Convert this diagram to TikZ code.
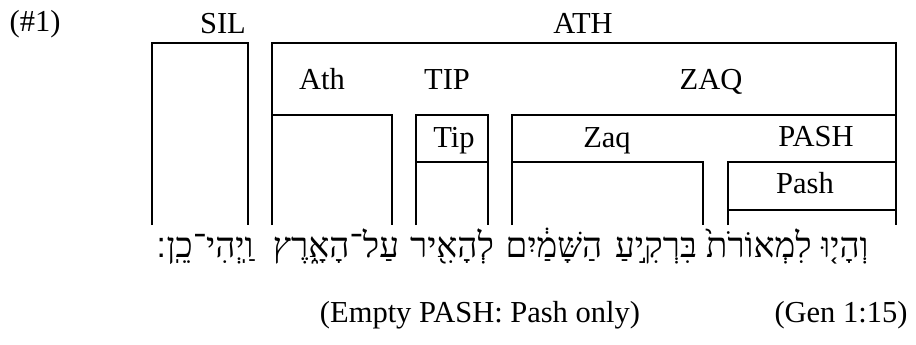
\documentclass[tikz,border=0pt]{standalone}
\usepackage{fontspec}
\setmainfont{Liberation Serif}
\newfontfamily\hebfont[Script=Hebrew]{Liberation Serif}
\newfontfamily\hebdv[Script=Hebrew]{DejaVu Sans}
\TeXXeTstate=1
\begin{document}
\begin{tikzpicture}[x=1pt,y=-1pt,
  box/.style={line width=1.3pt},
  lbl/.style={font=\fontsize{30.5}{35}\selectfont, anchor=base, inner sep=0pt},
  heb/.style={font=\hebfont\fontsize{35}{39}\selectfont, anchor=base, inner sep=0pt}]
\useasboundingbox (0,0) rectangle (916,345);
% brackets
\draw[box] (152,225) -- (152,43) -- (248,43) -- (248,225);
\draw[box] (272,225) -- (272,43) -- (896,43) -- (896,225);
\draw[box] (272,115) -- (392,115) -- (392,225);
\draw[box] (416,225) -- (416,115) -- (488,115) -- (488,225);
\draw[box] (416,162) -- (488,162);
\draw[box] (512,225) -- (512,115) -- (896,115);
\draw[box] (512,162) -- (703,162) -- (703,225);
\draw[box] (728,225) -- (728,162) -- (896,162);
\draw[box] (728,210) -- (896,210);
% labels
\node[lbl] (num) at (35,32) {(\#1)};
\node[lbl] (sil) at (223,34) {SIL};
\node[lbl] (ath) at (583,34) {ATH};
\node[lbl] (athl) at (322,89) {Ath};
\node[lbl] (tip) at (447,89) {TIP};
\node[lbl] (zaq) at (711,89) {ZAQ};
\node[lbl] (tipl) at (454,147) {Tip};
\node[lbl] (zaql) at (607,147) {Zaq};
\node[lbl] (pash) at (816,146) {PASH};
\node[lbl] (pashl) at (805,193) {Pash};
% Hebrew words
\node[heb] (w1) at (845,257) {\beginR וְהָי֤וּ\endR};
\node[heb] (w2) at (759,257) {\beginR לִמְאוֹרֹת֙\endR};
\node[heb] (w3) at (656,257) {\beginR בִּרְקִ֣יעַ\endR};
\node[heb] (w4) at (554,257) {\beginR הַשָּׁמַ֔יִם\endR};
\node[heb] (w5) at (452,257) {\beginR לְהָאִ֖יר\endR};
\node[heb] (w6) at (336,257) {\beginR עַל־הָאָ֑רֶץ\endR};
\node[heb] (w7) at (205,257) {\beginR וַֽיְהִי־כֵֽן{\hebdv ׃}\endR};
% notes
\node[lbl] (remark) at (480,322) {(Empty PASH: Pash only)};
\node[lbl] (ref) at (841,322) {(Gen 1:15)};
\end{tikzpicture}
\end{document}
